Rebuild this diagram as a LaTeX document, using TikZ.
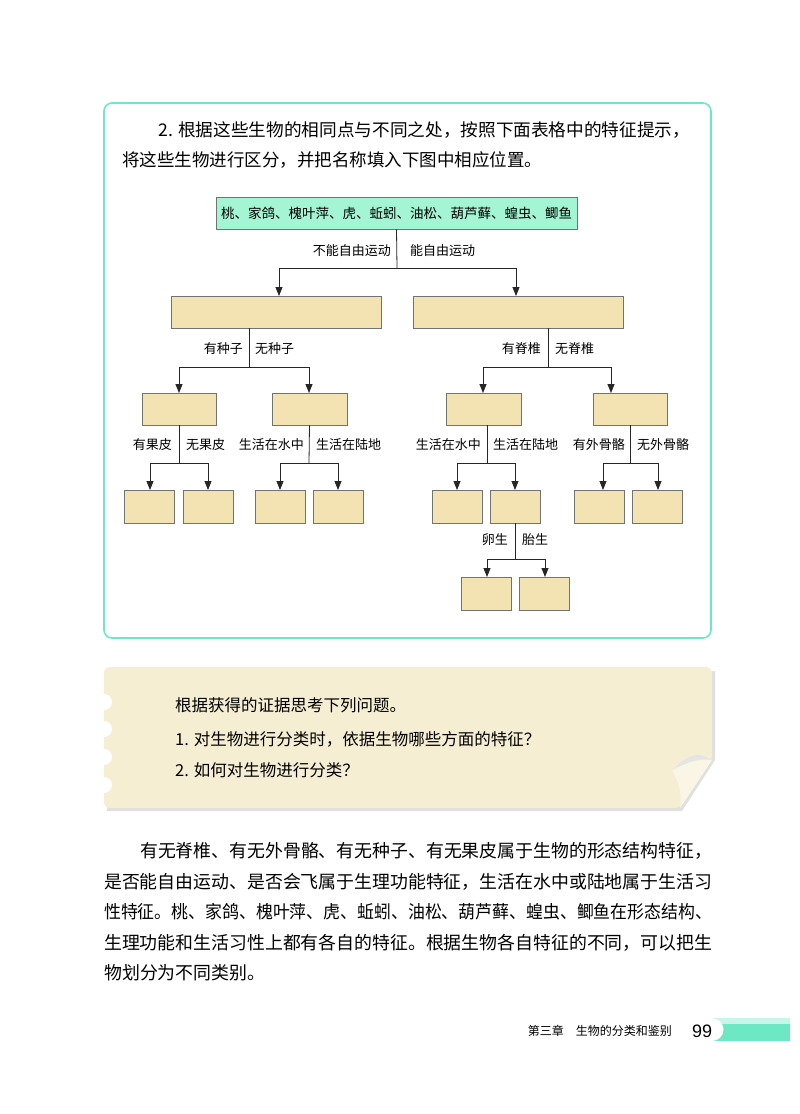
\documentclass[tikz,border=0pt]{standalone}
\usepackage{fontspec}
\usepackage{graphicx}
\setmainfont{Noto Sans CJK SC}
\newfontfamily\numfont{Liberation Sans}
\usetikzlibrary{arrows.meta}
\definecolor{mint}{HTML}{6EE8C4}
\definecolor{mintfill}{HTML}{A3F5D3}
\definecolor{tan}{HTML}{F4E3B2}
\definecolor{note}{HTML}{F6EED3}
\tikzset{
 lbox/.style={draw=black!55, fill=tan, line width=0.7pt},
 conn/.style={draw=black!85, line width=0.8pt},
 arr/.style={conn, -{Triangle[length=9pt,width=7pt]}},
 lab/.style={font=\fontsize{13}{13}\selectfont, inner sep=0pt},
 body/.style={font=\fontsize{17.9}{18}\selectfont, inner sep=0pt, anchor=west},
}
\newcommand{\fitw}[2]{\resizebox{#1}{\height}{#2}}
\begin{document}
\begin{tikzpicture}[x=1pt,y=-1pt]
\useasboundingbox (0,0) rectangle (800,1114);
\fill[white] (0,0) rectangle (800,1114);
% outer frame
\draw[mint, line width=1.6pt, rounded corners=8pt] (104,103) rectangle (711,638);
\node[body,font=\fontsize{17.5}{18}\selectfont] (t1) at (158,130) {\fitw{532pt}{2. 根据这些生物的相同点与不同之处，按照下面表格中的特征提示，}};
\node[body,font=\fontsize{17.5}{18}\selectfont] (t2) at (122,160) {将这些生物进行区分，并把名称填入下图中相应位置。};
% top box
\node[draw=black!55, fill=mintfill, line width=0.7pt, minimum width=361pt, minimum height=32pt, inner sep=0pt, font=\fontsize{13.5}{14}\selectfont] (top) at (396.5,213) {桃、家鸽、槐叶萍、虎、蚯蚓、油松、葫芦藓、蝗虫、鲫鱼};
% level 1
\node[lbox, minimum width=210pt, minimum height=32pt, inner sep=0pt] (A) at (276,312) {};
\node[lbox, minimum width=210pt, minimum height=32pt, inner sep=0pt] (B) at (518,312) {};
\coordinate (j0) at (397,268);
\draw[conn] (top.south) -- (j0);
\draw[arr] (j0) -| (279,296);
\draw[arr] (j0) -| (516,296);
\node[lab, anchor=east] (l0a) at (391,251) {不能自由运动};
\node[lab, anchor=west] (l0b) at (410,251) {能自由运动};
% level 2 boxes
\foreach \n/\x/\w in {A1/179/74, A2/309.5/75, B1/483.5/75, B2/630/74}
  \node[lbox, minimum width=\w pt, minimum height=32pt, inner sep=0pt] (\n) at (\x,409) {};
\coordinate (jA) at (249,367);
\draw[conn] (249,328) -- (jA);
\draw[arr] (jA) -| (179,393);
\draw[arr] (jA) -| (309,393);
\node[lab, anchor=east] at (243,349) {有种子};
\node[lab, anchor=west] at (255,349) {无种子};
\coordinate (jB) at (548,367);
\draw[conn] (548,328) -- (jB);
\draw[arr] (jB) -| (483,393);
\draw[arr] (jB) -| (611,393);
\node[lab, anchor=east] at (541,349) {有脊椎};
\node[lab, anchor=west] at (555,349) {无脊椎};
% level 3 boxes
\foreach \n/\x in {C1/149.5, C2/208, C3/280, C4/338, C5/457, C6/515, C7/599, C8/657}
  \node[lbox, minimum width=50pt, minimum height=33pt, inner sep=0pt] (\n) at (\x,506.5) {};
\draw[conn] (A1.south) -- (179,463);
\draw[arr] (179,463) -| (150,490);
\draw[arr] (179,463) -| (208,490);
\node[lab, anchor=east] at (172,445) {有果皮};
\node[lab, anchor=west] at (186,445) {无果皮};
\draw[conn] (A2.south) -- (309,463);
\draw[arr] (309,463) -| (280,490);
\draw[arr] (309,463) -| (338,490);
\node[lab, anchor=east] at (304,445) {生活在水中};
\node[lab, anchor=west] at (316,445) {生活在陆地};
\draw[conn] (487,425) -- (487,463);
\draw[arr] (487,463) -| (457,490);
\draw[arr] (487,463) -| (515,490);
\node[lab, anchor=east] at (481,445) {生活在水中};
\node[lab, anchor=west] at (493,445) {生活在陆地};
\draw[conn] (630,425) -- (630,463);
\draw[arr] (630,463) -| (603,490);
\draw[arr] (630,463) -| (658,490);
\node[lab, anchor=east] at (625,445) {有外骨骼};
\node[lab, anchor=west] at (637,445) {无外骨骼};
% level 4
\node[lbox, minimum width=50pt, minimum height=33pt, inner sep=0pt] (D1) at (486,593.5) {};
\node[lbox, minimum width=50pt, minimum height=33pt, inner sep=0pt] (D2) at (544.5,593.5) {};
\draw[conn] (C6.south) -- (515,559);
\draw[arr] (515,559) -| (487,577);
\draw[arr] (515,559) -| (545,577);
\node[lab, anchor=east] at (508,540) {卵生};
\node[lab, anchor=west] at (522,540) {胎生};
% note card
\fill[black!12] (107,671) -- (715,671) -- (715,760) -- (682,811) -- (107,811) -- cycle;
\fill[note, rounded corners=6pt] (104,667) -- (712,667) -- (712,760) -- (680,808) -- (104,808) -- cycle;
\fill[note!60!white] (712,760) .. controls (700,752) and (690,752) .. (672,770) .. controls (680,785) and (682,795) .. (680,808) -- cycle;
\fill[black!10] (672,770) .. controls (690,752) and (700,752) .. (712,760) .. controls (698,758) and (688,762) .. (672,770) -- cycle;
\foreach \y in {702,729,757,785} \fill[white] (104,\y) circle (8pt);
\node[body,font=\fontsize{16.5}{17}\selectfont] (n1) at (175,705) {根据获得的证据思考下列问题。};
\node[body,font=\fontsize{16.5}{17}\selectfont] (n2) at (175,739) {1. 对生物进行分类时，依据生物哪些方面的特征？};
\node[body,font=\fontsize{16.5}{17}\selectfont] (n3) at (175,770) {2. 如何对生物进行分类？};
% body
\node[body] (b1) at (140,851) {\fitw{572pt}{有无脊椎、有无外骨骼、有无种子、有无果皮属于生物的形态结构特征，}};
\node[body] (b2) at (104,882) {\fitw{608pt}{是否能自由运动、是否会飞属于生理功能特征，生活在水中或陆地属于生活习}};
\node[body] (b3) at (104,912) {\fitw{608pt}{性特征。桃、家鸽、槐叶萍、虎、蚯蚓、油松、葫芦藓、蝗虫、鲫鱼在形态结构、}};
\node[body] (b4) at (104,943) {\fitw{608pt}{生理功能和生活习性上都有各自的特征。根据生物各自特征的不同，可以把生}};
\node[body] (b5) at (104,973) {物划分为不同类别。};
% footer
\fill[mint] (712,1018) rectangle (790,1041);
\fill[mint!40!white] (712,1018) rectangle (790,1024);
\fill[white] (712,1029.5) circle (11.5pt);
\node[inner sep=0pt, anchor=east, font=\fontsize{12}{12}\selectfont] (f1) at (672,1031) {第三章\quad 生物的分类和鉴别};
\node[inner sep=0pt, anchor=west, font=\numfont\fontsize{18}{18}\selectfont] (f2) at (692,1031) {99};
\end{tikzpicture}
\end{document}
